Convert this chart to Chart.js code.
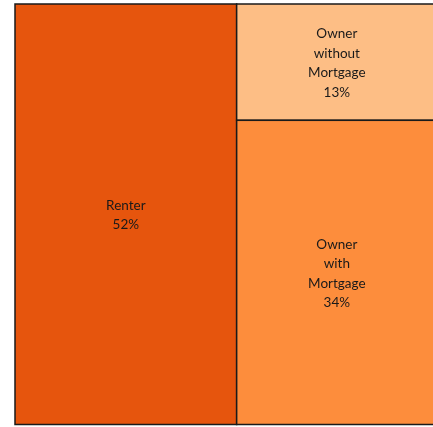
<!DOCTYPE html>
<html>
<head>
<meta charset="utf-8">
<script src="https://cdn.jsdelivr.net/npm/chart.js@4/dist/chart.umd.min.js"></script>
<style>
  html, body { margin: 0; padding: 0; background: #fff; overflow: hidden; }
  #wrap { width: 433px; height: 427px; overflow: hidden; }
</style>
</head>
<body>
<div id="wrap"><canvas id="tree" width="440" height="427"></canvas></div>
<script>
// Housing tenure shares (percent)
const categories = ['Renter', 'Owner without Mortgage', 'Owner with Mortgage'];
const shares = [52, 13, 34];
const cellColors = ['#e6550d', '#fdbe85', '#fd8d3c'];

const total = shares.reduce((a, b) => a + b, 0);

// Slice-and-dice layout: first category gets its own column,
// the rest are stacked in the second column.
function layoutCells() {
    const cells = [];
    cells.push({ x0: 0, x1: shares[0], y0: 0, y1: 1, i: 0 });
    const rest = total - shares[0];
    let y = 0;
    for (let i = 1; i < shares.length; i++) {
        const h = shares[i] / rest;
        cells.push({ x0: shares[0], x1: total, y0: y, y1: y + h, i: i });
        y += h;
    }
    return cells;
}

const treemapPlugin = {
    id: 'treemap',
    beforeDatasetsDraw(chart) {
        const ctx = chart.ctx;
        const xs = chart.scales.x;
        const ys = chart.scales.y;
        ctx.save();
        layoutCells().forEach(c => {
            const left = xs.getPixelForValue(c.x0);
            const right = xs.getPixelForValue(c.x1);
            const top = ys.getPixelForValue(c.y0);
            const bottom = ys.getPixelForValue(c.y1);
            ctx.fillStyle = cellColors[c.i];
            ctx.fillRect(left, top, right - left, bottom - top);
            ctx.lineWidth = 1.5;
            ctx.strokeStyle = '#1a1a1a';
            ctx.strokeRect(left, top, right - left, bottom - top);

            // label: one word per line, then the share
            const lines = categories[c.i].split(' ').concat([shares[c.i] + '%']);
            const lh = 19.5;
            const cx = (left + right) / 2;
            const cy = (top + bottom) / 2 + 1;
            ctx.fillStyle = '#1a1a1a';
            ctx.font = '13.5px Lato';
            ctx.textAlign = 'center';
            ctx.textBaseline = 'middle';
            lines.forEach((t, k) => {
                ctx.fillText(t, cx, cy + (k - (lines.length - 1) / 2) * lh);
            });
        });
        ctx.restore();
    }
};

new Chart(document.getElementById('tree'), {
    type: 'scatter',
    data: { datasets: [{ data: [], showLine: false }] },
    options: {
        responsive: false,
        animation: false,
        layout: { padding: { left: 15, top: 4, right: 3, bottom: 2.5 } },
        plugins: { legend: { display: false }, tooltip: { enabled: false } },
        scales: {
            x: { type: 'linear', min: 0, max: total, display: false },
            y: { type: 'linear', min: 0, max: 1, reverse: true, display: false }
        }
    },
    plugins: [treemapPlugin]
});
</script>
</body>
</html>
